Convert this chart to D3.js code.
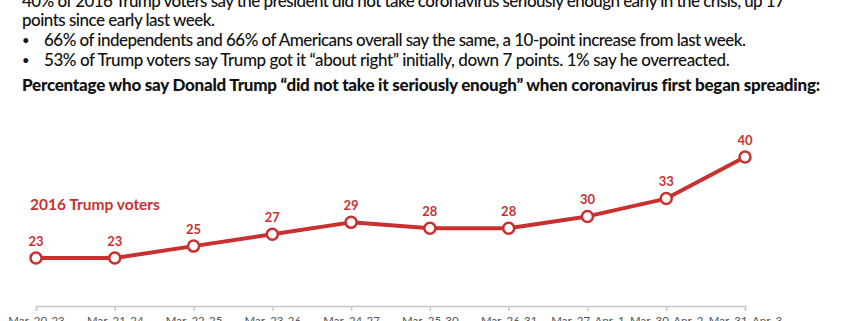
<!DOCTYPE html>
<html>
<head>
<meta charset="utf-8">
<script src="https://cdn.jsdelivr.net/npm/d3@7"></script>
<style>
  html, body { margin: 0; padding: 0; background: #fff; }
  svg { display: block; }
  text { font-family: Lato, "Noto Sans", sans-serif; }
</style>
</head>
<body>
<svg id="chart" width="845" height="321"></svg>
<script>
// Poll windows (rolling samples)
const categories = [
  "Mar. 20-23", "Mar. 21-24", "Mar. 22-25", "Mar. 23-26", "Mar. 24-27",
  "Mar. 25-30", "Mar. 26-31", "Mar. 27-Apr. 1", "Mar. 30-Apr. 2", "Mar. 31-Apr. 3"
];
// % of 2016 Trump voters saying he "did not take it seriously enough"
const trumpVoters = [23, 23, 25, 27, 29, 28, 28, 30, 33, 40];
const seriesName = "2016 Trump voters";

const headline = [
  "40% of 2016 Trump voters say the president did not take coronavirus seriously enough early in the crisis, up 17",
  "points since early last week."
];
const bullets = [
  "66% of independents and 66% of Americans overall say the same, a 10-point increase from last week.",
  "53% of Trump voters say Trump got it \u201cabout right\u201d initially, down 7 points. 1% say he overreacted."
];
const subtitle = "Percentage who say Donald Trump \u201cdid not take it seriously enough\u201d when coronavirus first began spreading:";

const red = "#c8312f";
const ink = "#111";
const svg = d3.select("#chart");

// Fit a text line to a target width by adjusting letter spacing
function fit(sel, target) {
  const w = sel.node().getComputedTextLength();
  const n = sel.text().length;
  if (n > 1) sel.attr("letter-spacing", ((target - w) / (n - 1)).toFixed(3));
}

// Header text
const head = svg.append("g");
function line(x, y, txt, weight, target) {
  const t = head.append("text").attr("x", x).attr("y", y)
    .attr("font-size", 17).attr("font-weight", weight).attr("fill", ink).text(txt);
  fit(t, target);
  return t;
}
line(22, 6.5, headline[0], 500, 763);
line(22, 26, headline[1], 500, 193);

const bulletTargets = [702, 686];
bullets.forEach((b, i) => {
  const y = 46 + i * 19.5;
  head.append("text").attr("x", 22).attr("y", y - 1)
    .attr("font-size", 13).attr("fill", ink).text("\u2022");
  line(44, y, b, 500, bulletTargets[i]);
});

line(22, 91, subtitle, 900, 798);

// Scales
const x = d3.scalePoint().domain(categories).range([36, 745]).padding(0);
const y = d3.scaleLinear().domain([23, 40]).range([258, 157]);

// X axis
const axis = svg.append("g").attr("transform", "translate(0,306)")
  .call(d3.axisBottom(x).tickSize(5).tickPadding(6));
axis.select(".domain").attr("stroke", "#c8c8c8").attr("stroke-width", 1.5);
axis.selectAll(".tick line").attr("stroke", "#c8c8c8").attr("stroke-width", 1.5);
axis.selectAll(".tick text")
  .attr("font-family", "Lato, 'Noto Sans', sans-serif")
  .attr("font-size", 11.5).attr("fill", "#555");

// Line
const data = categories.map((c, i) => ({ c, v: trumpVoters[i] }));
svg.append("path").datum(data)
  .attr("fill", "none").attr("stroke", red).attr("stroke-width", 4)
  .attr("stroke-linejoin", "round")
  .attr("d", d3.line().x(d => x(d.c)).y(d => y(d.v)));

// Points
svg.append("g").selectAll("circle").data(data).join("circle")
  .attr("cx", d => x(d.c)).attr("cy", d => y(d.v)).attr("r", 5.5)
  .attr("fill", "#fff").attr("stroke", red).attr("stroke-width", 2.5);

// Value labels
svg.append("g").selectAll("text").data(data).join("text")
  .attr("x", d => x(d.c)).attr("y", d => y(d.v) - 12.5)
  .attr("text-anchor", "middle").attr("font-size", 13).attr("font-weight", 700)
  .attr("fill", red).text(d => d.v);

// Series label
svg.append("text").attr("x", 30).attr("y", 210)
  .attr("font-size", 15.5).attr("font-weight", 700).attr("fill", red).text(seriesName);
</script>
</body>
</html>
